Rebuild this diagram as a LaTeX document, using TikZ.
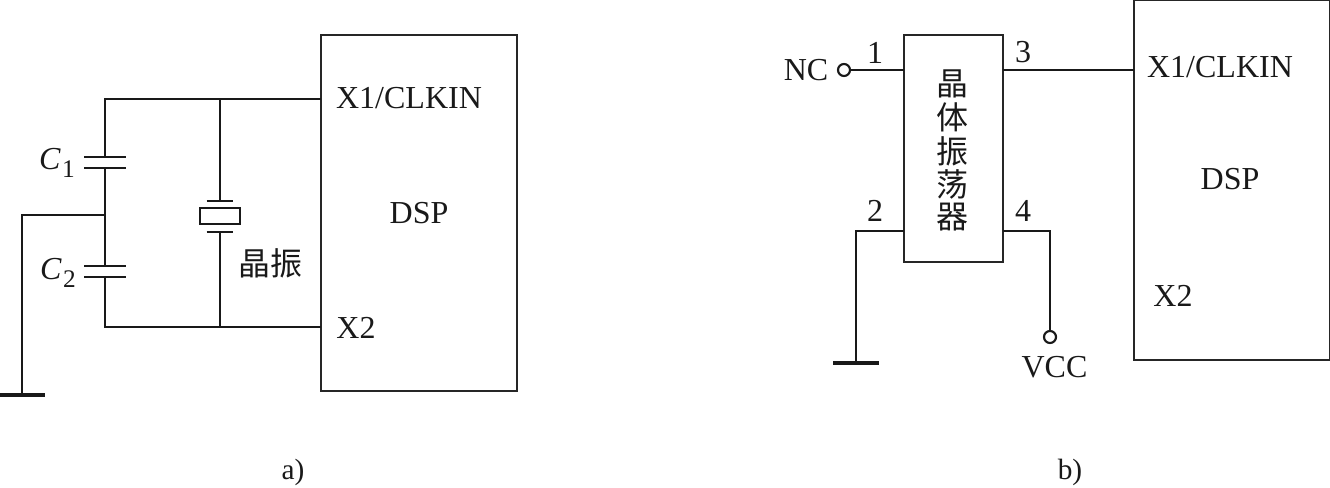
\documentclass[tikz,border=0pt]{standalone}
\usepackage{fontspec}
\setmainfont{Liberation Serif}
\newfontfamily\cjk{Noto Sans CJK SC}
\tikzset{
  wire/.style={line width=1.9pt,black!90},
  plate/.style={line width=2pt,black!90},
  heavy/.style={line width=2.6pt,black!90},
  chipbox/.style={draw=black!85,line width=1.8pt,inner sep=0pt,outer sep=0pt},
  label/.style={inner sep=0pt,outer sep=0pt,font=\fontsize{24}{24}\selectfont,text=black!90},
  cjklabel/.style={label,font=\fontsize{24}{24}\selectfont\cjk},
  term/.style={circle,draw=black!90,line width=1.6pt,minimum size=9pt,inner sep=0pt,outer sep=0pt,fill=white},
}
\newcommand{\capsub}[1]{\textit{C}\hspace{1pt}\raisebox{-6pt}{\fontsize{19}{19}\selectfont #1}}
\begin{document}
\begin{tikzpicture}[x=0.75pt,y=-0.75pt]
\useasboundingbox (0,0) rectangle (1330,488);
% ---- a) ----
\node[chipbox,minimum width=147pt,minimum height=267pt] (dspa) at (419,213) {};
\coordinate (topL) at (105,99);
\coordinate (botL) at (105,327);
\coordinate (mid) at (105,215);
\coordinate (c1t) at (105,157);
\coordinate (c1b) at (105,168);
\coordinate (c2t) at (105,266);
\coordinate (c2b) at (105,277);
\coordinate (xt) at (220,99);
\coordinate (xb) at (220,327);
\coordinate (gnda) at (22,395);
\node[chipbox,draw=black!90,minimum width=30pt,minimum height=12pt] (xtal) at (220,216) {};
\coordinate (xp1) at (220,201);
\coordinate (xp2) at (220,232);
\draw[wire] (dspa.west |- topL) -- (topL) -- (c1t);
\draw[wire] (c1b) -- (c2t);
\draw[wire] (c2b) -- (botL) -- (dspa.west |- botL);
\draw[wire] (mid) -| (gnda);
\draw[wire] (xt) -- (xp1);
\draw[wire] (xp2) -- (xb);
\draw[plate] ([xshift=-15.4pt]c1t) -- ([xshift=15.4pt]c1t);
\draw[plate] ([xshift=-15.4pt]c1b) -- ([xshift=15.4pt]c1b);
\draw[plate] ([xshift=-15.4pt]c2t) -- ([xshift=15.4pt]c2t);
\draw[plate] ([xshift=-15.4pt]c2b) -- ([xshift=15.4pt]c2b);
\draw[plate] ([xshift=-10pt]xp1) -- ([xshift=10pt]xp1);
\draw[plate] ([xshift=-10pt]xp2) -- ([xshift=10pt]xp2);
\draw[heavy] ([xshift=-17pt]gnda) -- ([xshift=17pt]gnda);
\node[label] (c1) at (57,163) {\capsub{1}};
\node[label] (c2) at (58,273) {\capsub{2}};
\node[cjklabel] (jz) at (270,263) {晶振};
\node[label] (x1a) at (409,98) {X1/CLKIN};
\node[label] (dsplab) at (419,213) {DSP};
\node[label] (x2a) at (356,328) {X2};
\node[label,font=\fontsize{22}{22}\selectfont] (capa) at (293,472) {a)};
% ---- b) ----
\node[chipbox,minimum width=74pt,minimum height=170.5pt] (osc) at (953.5,148.5) {};
\node[chipbox,minimum width=147pt,minimum height=270pt] (dspb) at (1232,180) {};
\node[term] (nc) at (844,70) {};
\node[term] (vcc) at (1050,337) {};
\coordinate (gndb) at (856,363);
\coordinate (p2) at (856,231);
\coordinate (p4) at (1050,231);
\draw[wire] (nc) -- (osc.west |- nc);
\draw[wire] (osc.east |- nc) -- (dspb.west |- nc);
\draw[wire] (osc.west |- p2) -- (p2) -- (gndb);
\draw[wire] (osc.east |- p4) -- (p4) -- (vcc);
\draw[heavy] ([xshift=-17pt]gndb) -- ([xshift=17pt]gndb);
\node[label] (nclab) at (806,70) {NC};
\node[label] (n1) at (875,53) {1};
\node[label] (n3) at (1023,52) {3};
\node[label] (n2) at (875,211) {2};
\node[label] (n4) at (1023,211) {4};
\node[cjklabel] (o1) at (952,84) {晶};
\node[cjklabel] (o2) at (952,117) {体};
\node[cjklabel] (o3) at (952,151) {振};
\node[cjklabel] (o4) at (952,184) {荡};
\node[cjklabel] (o5) at (952,217) {器};
\node[label] (vcclab) at (1054.5,367) {VCC};
\node[label] (x1b) at (1220,67) {X1/CLKIN};
\node[label] (dspblab) at (1230,179) {DSP};
\node[label] (x2b) at (1173,296) {X2};
\node[label,font=\fontsize{22}{22}\selectfont] (capb) at (1070,472) {b)};
\end{tikzpicture}
\end{document}
